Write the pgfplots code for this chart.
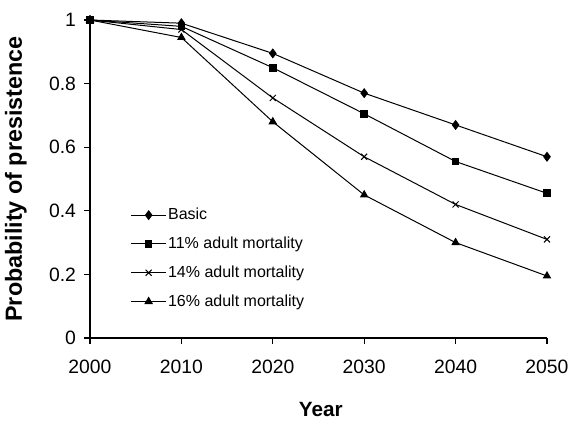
\documentclass[border=0pt]{standalone}
\usepackage{fontspec}
\setmainfont{Liberation Sans}
\usepackage{pgfplots}
\pgfplotsset{compat=1.18}
\begin{document}
\begin{tikzpicture}
\path[use as bounding box] (-67.5pt,-66pt) rectangle (359.25pt,253.5pt);
\begin{axis}[
  at={(0,0)}, anchor=south west,
  scale only axis,
  width=342.75pt, height=238.5pt,
  xmin=2000, xmax=2050, ymin=0, ymax=1,
  xtick={2000,2010,2020,2030,2040,2050},
  ytick={0,0.2,0.4,0.6,0.8,1},
  axis lines=left,
  axis line style={-, line width=0.8pt},
  tick align=outside,
  major tick length=4.5pt,
  tick style={black, line width=0.8pt},
  /pgf/number format/assume math mode=true,
  /pgf/number format/1000 sep={},
  tick label style={font=\fontsize{14.5}{16}\selectfont},
  xticklabel style={yshift=-8.5pt},
  yticklabel style={xshift=-2.5pt},
  xlabel={\textbf{Year}},
  ylabel={\textbf{Probability of presistence}},
  xlabel style={at={(axis description cs:0.505,-0.226)}, anchor=center, font=\fontsize{15.5}{17}\selectfont},
  ylabel style={at={(axis description cs:-0.162,0.5)}, anchor=center, rotate=0, font=\fontsize{17.5}{19}\selectfont},
  clip=false,
  every axis plot/.append style={black, line width=0.75pt},
  legend style={at={(0.08,0.422)}, anchor=north west, draw=none, fill=none,
    font=\fontsize{12}{14}\selectfont, row sep=9pt, nodes={inner sep=1.2pt}},
  legend cell align=left,
  legend image code/.code={\draw[mark repeat=2,mark phase=2] plot coordinates {(0pt,0pt)(13pt,0pt)(26pt,0pt)};},
]
\addplot[mark=diamond*, mark size=3.2pt] coordinates {
(2000,1) (2010,0.99) (2020,0.895) (2030,0.77) (2040,0.67) (2050,0.57)};
\addlegendentry{Basic}
\addplot[mark=square*, mark size=2.5pt] coordinates {
(2000,1) (2010,0.98) (2020,0.85) (2030,0.705) (2040,0.555) (2050,0.455)};
\addlegendentry{11\% adult mortality}
\addplot[mark=x, mark size=3.2pt] coordinates {
(2000,1) (2010,0.97) (2020,0.755) (2030,0.57) (2040,0.42) (2050,0.31)};
\addlegendentry{14\% adult mortality}
\addplot[mark=triangle*, mark size=3pt] coordinates {
(2000,1) (2010,0.945) (2020,0.68) (2030,0.45) (2040,0.30) (2050,0.195)};
\addlegendentry{16\% adult mortality}
\end{axis}
\end{tikzpicture}
\end{document}
